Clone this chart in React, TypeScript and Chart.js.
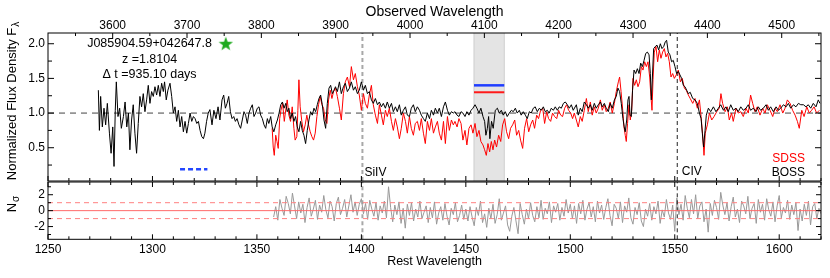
import React, { useEffect, useRef } from "react";
import { Chart, registerables } from "chart.js";
Chart.register(...registerables);

const FONT = "'Liberation Sans', Helvetica, Arial, sans-serif";

// ---- axis ranges ----
const REDSHIFT = 1.8104;
const REST_MIN = 1250;
const REST_MAX = 1620;
const FLUX_MIN = 0.02;
const FLUX_MAX = 2.155;
const NSIG_MIN = -3.6;
const NSIG_MAX = 3.6;

// ---- tick labels ----
const restTickLabels = [1250, 1300, 1350, 1400, 1450, 1500, 1550, 1600];
const obsTickLabels = [3600, 3700, 3800, 3900, 4000, 4100, 4200, 4300, 4400, 4500];
const fluxTickLabels = [0.5, 1.0, 1.5, 2.0];
const nsigTickLabels = [-2, 0, 2];

// ---- annotations ----
const objectName = "J085904.59+042647.8";
const redshiftText = "z =1.8104";
const deltaTText = "\u0394 t =935.10 days";
const textCenterWave = 1298.6;
const textLevels = [2.0, 1.765, 1.555];
const bandRange = [1453.9, 1468.4];
const bandBossLevel = 1.4;
const bandSdssLevel = 1.3;
const dashedBlueRange = [1313.2, 1326.3];
const dashedBlueLevel = 0.19;
const starPosition = [1335.1, 2.0];
const siivWave = 1400.5;
const civWave = 1551.2;

// ---- BOSS spectrum [rest wavelength, normalized flux] ----
const bossSpectrum: [number, number][] = [
  [1274.1,1.33],[1274.6,0.75],[1275.2,1.24],[1276.0,0.80],[1276.8,1.07],[1277.6,0.83],[1278.4,1.14],[1279.4,0.71],
  [1280.2,0.42],[1281.0,0.80],[1281.6,0.23],[1282.2,1.04],[1282.7,1.45],[1283.5,0.95],[1284.3,1.07],[1285.1,0.78],
  [1286.1,0.95],[1286.9,1.16],[1287.7,0.80],[1288.5,1.00],[1289.2,0.47],[1290.0,0.90],[1290.8,1.12],[1291.6,0.71],
  [1292.4,0.42],[1293.2,0.85],[1294.0,1.24],[1294.8,1.09],[1295.6,1.28],[1296.4,1.02],[1297.2,1.19],[1298.0,1.40],
  [1298.8,1.14],[1299.6,1.31],[1300.4,1.24],[1301.2,1.38],[1302.0,1.26],[1302.8,1.40],[1303.6,1.24],[1304.4,1.43],
  [1305.2,1.31],[1305.8,1.45],[1306.6,1.19],[1307.4,1.33],[1308.4,1.43],[1309.2,1.24],[1310.0,1.00],[1310.8,1.09],
  [1311.6,0.88],[1312.4,1.04],[1313.2,0.80],[1314.0,0.95],[1314.8,0.73],[1315.6,0.88],[1316.4,0.71],[1317.2,0.85],
  [1318.0,1.00],[1318.8,0.88],[1319.6,0.95],[1320.4,0.92],[1321.2,0.85],[1322.0,0.88],[1322.8,0.75],[1323.6,0.66],
  [1324.4,0.63],[1325.1,0.71],[1325.9,0.88],[1326.7,1.00],[1327.5,1.05],[1328.5,0.83],[1329.4,1.04],[1330.4,0.92],
  [1331.4,1.09],[1332.3,0.90],[1333.3,1.19],[1334.1,1.26],[1334.9,1.07],[1335.7,1.14],[1336.5,1.24],[1337.3,1.02],
  [1338.1,0.92],[1338.9,0.95],[1339.7,0.88],[1340.5,0.92],[1341.4,0.83],[1342.2,0.78],[1343.0,0.90],[1343.8,1.02],
  [1344.6,0.97],[1345.4,0.85],[1346.2,1.00],[1347.0,1.07],[1347.8,1.12],[1348.6,0.95],[1349.4,1.00],[1350.2,1.07],
  [1351.0,1.09],[1351.8,0.97],[1352.6,0.92],[1353.4,0.83],[1354.2,0.78],[1355.0,0.92],[1355.7,0.85],[1356.6,0.95],
  [1357.3,0.80],[1358.1,0.73],[1359.0,0.83],[1359.8,0.90],[1360.6,1.00],[1361.4,1.12],[1362.2,1.16],[1363.0,1.07],
  [1363.8,1.14],[1364.5,1.02],[1365.3,1.07],[1366.1,0.92],[1366.9,1.00],[1367.7,0.88],[1368.5,0.95],[1369.3,0.80],
  [1370.1,0.73],[1370.9,0.88],[1371.7,0.75],[1372.5,0.68],[1373.3,0.56],[1374.1,0.75],[1374.9,0.90],[1375.7,1.02],
  [1376.5,0.97],[1377.3,1.07],[1378.1,1.02],[1378.9,1.12],[1379.7,1.21],[1380.5,1.26],[1381.3,1.12],[1382.1,0.90],
  [1382.9,0.78],[1383.7,1.14],[1384.5,1.36],[1385.3,1.40],[1386.1,1.28],[1386.9,1.33],[1387.6,1.38],[1388.5,1.31],
  [1389.5,1.45],[1390.4,1.28],[1391.4,1.38],[1392.3,1.43],[1393.3,1.31],[1394.3,1.36],[1395.2,1.45],[1396.2,1.33],
  [1397.1,1.38],[1398.1,1.28],[1399.0,1.33],[1400.0,1.45],[1401.0,1.33],[1401.9,1.40],[1402.9,1.28],[1403.8,1.31],
  [1404.8,1.19],[1405.7,1.14],[1406.7,1.21],[1407.7,1.12],[1408.6,1.16],[1409.6,1.09],[1410.5,1.14],[1411.5,1.07],
  [1412.4,1.16],[1413.4,1.07],[1414.4,1.14],[1415.3,1.02],[1416.3,1.09],[1417.2,1.02],[1418.2,1.12],[1419.1,0.97],
  [1420.1,1.04],[1421.1,1.09],[1422.0,0.97],[1423.0,0.95],[1423.9,1.07],[1424.9,1.12],[1425.8,1.02],[1426.8,1.09],
  [1427.8,1.04],[1428.7,0.97],[1429.7,0.92],[1430.6,0.88],[1431.6,1.00],[1432.6,0.92],[1433.5,1.04],[1434.5,0.97],
  [1435.4,1.07],[1436.4,1.00],[1437.3,1.07],[1438.3,0.95],[1439.3,1.09],[1440.2,1.16],[1441.2,1.04],[1442.1,0.97],
  [1443.1,1.02],[1444.0,1.00],[1444.8,1.02],[1445.8,0.97],[1446.7,0.95],[1447.7,1.02],[1448.6,1.00],[1449.6,0.95],
  [1450.5,1.02],[1451.5,0.97],[1452.5,1.04],[1453.4,1.07],[1454.4,1.12],[1455.3,1.07],[1456.3,1.00],[1457.2,1.07],
  [1458.2,0.95],[1459.0,0.88],[1459.6,0.68],[1460.3,0.78],[1460.9,0.95],[1461.5,0.63],[1462.3,0.88],[1463.1,0.78],
  [1464.1,1.04],[1465.1,1.07],[1466.0,1.00],[1467.0,1.04],[1467.9,0.97],[1468.9,1.02],[1469.8,0.95],[1470.8,1.00],
  [1471.8,1.04],[1472.7,1.02],[1473.7,1.07],[1474.6,1.00],[1475.6,1.04],[1476.5,0.97],[1477.5,1.02],[1478.5,0.97],
  [1479.4,0.92],[1480.4,1.02],[1481.3,1.00],[1482.3,1.07],[1483.2,1.09],[1484.2,1.02],[1485.2,1.07],[1486.1,1.04],
  [1487.1,1.09],[1488.0,1.02],[1489.0,1.04],[1489.9,1.00],[1490.9,1.07],[1491.9,1.04],[1492.8,1.09],[1493.8,1.04],
  [1494.7,1.09],[1495.7,1.07],[1496.7,1.14],[1497.6,1.16],[1498.6,1.12],[1499.5,1.07],[1500.5,1.12],[1501.4,1.04],
  [1502.9,1.12],[1503.8,0.97],[1504.8,1.07],[1505.7,1.02],[1506.7,1.16],[1507.7,1.12],[1508.6,1.07],[1509.6,1.12],
  [1510.5,1.04],[1511.5,1.14],[1512.4,1.07],[1513.4,1.12],[1514.4,1.16],[1515.3,1.09],[1516.3,1.14],[1517.2,1.07],
  [1518.2,1.02],[1519.1,1.14],[1520.1,1.07],[1521.1,1.19],[1522.0,1.24],[1522.8,1.36],[1523.6,1.31],[1524.4,1.14],
  [1525.2,0.92],[1525.8,0.80],[1526.3,0.73],[1527.0,0.90],[1527.6,1.19],[1528.1,1.24],[1528.6,0.97],[1529.2,0.95],
  [1529.8,1.33],[1530.5,1.62],[1531.3,1.57],[1532.1,1.64],[1532.9,1.57],[1533.7,1.72],[1534.5,1.67],[1535.3,1.76],
  [1536.1,1.86],[1536.9,1.88],[1537.7,1.84],[1538.3,1.57],[1538.8,1.19],[1539.3,1.52],[1539.9,1.93],[1540.7,1.96],
  [1541.5,1.98],[1542.3,1.91],[1543.1,2.00],[1543.9,1.93],[1544.7,1.96],[1545.5,2.03],[1546.1,2.05],[1546.9,1.88],
  [1547.7,1.84],[1548.5,1.74],[1549.3,1.76],[1550.1,1.67],[1550.9,1.57],[1551.7,1.60],[1552.5,1.55],[1553.3,1.50],
  [1554.1,1.40],[1554.9,1.38],[1555.7,1.33],[1556.5,1.28],[1557.4,1.30],[1558.6,1.21],[1559.7,1.19],[1560.8,1.14],
  [1561.8,1.00],[1562.6,0.92],[1563.2,0.71],[1563.8,0.51],[1564.5,0.75],[1565.1,0.97],[1566.1,1.07],[1567.2,1.02],
  [1568.5,1.09],[1569.7,1.02],[1570.9,1.07],[1572.0,1.12],[1573.3,1.04],[1574.5,1.09],[1575.6,1.02],[1576.8,1.12],
  [1578.0,1.04],[1579.3,1.07],[1580.4,1.02],[1581.6,1.09],[1582.8,1.04],[1584.1,1.07],[1585.2,1.12],[1586.3,1.04],
  [1587.6,1.07],[1588.9,1.02],[1590.0,1.09],[1591.1,1.04],[1592.4,1.07],[1593.7,1.12],[1594.8,1.04],[1595.9,1.09],
  [1597.2,1.02],[1598.5,1.09],[1599.6,1.04],[1600.7,1.07],[1602.0,1.12],[1603.3,1.09],[1604.4,1.14],[1605.5,1.07],
  [1606.8,1.12],[1608.0,1.09],[1609.2,1.14],[1610.3,1.12],[1611.6,1.12],[1612.8,1.09],[1613.9,1.12],[1615.1,1.07],
  [1616.3,1.14],[1617.6,1.09],[1618.7,1.19],[1619.5,1.14],
];

// ---- SDSS spectrum [rest wavelength, normalized flux] ----
const sdssSpectrum: [number, number][] = [
  [1357.3,0.78],[1357.8,0.51],[1358.3,0.39],[1359.0,0.68],[1359.6,0.59],[1360.2,0.49],[1360.9,0.92],[1361.5,1.04],
  [1362.3,1.14],[1363.1,0.88],[1363.9,1.07],[1364.5,1.19],[1365.3,0.97],[1366.1,0.88],[1366.9,1.09],[1367.7,0.78],
  [1368.3,0.61],[1369.1,0.66],[1369.6,1.04],[1370.1,1.48],[1370.7,1.09],[1371.5,0.88],[1372.3,0.73],[1373.1,0.83],
  [1373.9,0.97],[1374.7,0.83],[1375.5,0.73],[1376.3,0.66],[1377.1,0.61],[1377.9,0.71],[1378.7,0.95],[1379.5,1.12],
  [1380.3,1.24],[1381.1,1.12],[1381.9,1.07],[1382.7,0.90],[1383.5,0.85],[1384.3,1.19],[1385.1,1.33],[1385.9,1.21],
  [1386.7,1.31],[1387.6,1.36],[1388.5,1.24],[1389.5,1.07],[1390.4,0.90],[1391.4,1.28],[1392.3,1.45],[1393.3,1.52],
  [1394.3,1.38],[1395.2,1.67],[1396.2,1.48],[1397.1,1.57],[1398.1,1.38],[1399.0,1.26],[1400.0,1.04],[1401.0,1.28],
  [1401.9,1.14],[1402.9,1.07],[1403.8,1.26],[1404.8,1.40],[1405.7,1.12],[1406.7,0.97],[1407.7,0.85],[1408.6,1.12],
  [1409.6,0.97],[1410.5,0.83],[1411.5,1.04],[1412.4,0.95],[1413.4,1.07],[1414.4,0.88],[1415.3,0.75],[1416.3,0.92],
  [1417.2,0.80],[1418.2,0.63],[1419.1,0.78],[1420.1,1.00],[1421.1,0.88],[1422.0,0.71],[1423.0,0.95],[1423.9,0.78],
  [1424.9,0.68],[1425.8,0.85],[1426.8,0.88],[1427.8,0.75],[1428.7,0.92],[1429.7,0.71],[1430.6,0.56],[1431.6,0.88],
  [1432.6,0.75],[1433.5,0.92],[1434.5,0.71],[1435.4,0.80],[1436.4,0.88],[1437.3,0.71],[1438.3,0.61],[1439.3,0.88],
  [1440.2,0.56],[1441.2,0.95],[1442.1,0.75],[1443.1,0.90],[1444.0,0.83],[1444.8,0.88],[1445.8,0.80],[1446.7,0.92],
  [1447.7,0.85],[1448.6,0.61],[1449.6,0.75],[1450.5,0.54],[1451.5,0.78],[1452.5,0.83],[1453.4,0.71],[1454.4,0.85],
  [1455.3,0.66],[1456.3,0.75],[1457.2,0.59],[1458.2,0.54],[1459.0,0.47],[1459.8,0.39],[1460.6,0.56],[1461.4,0.44],
  [1462.2,0.59],[1463.0,0.47],[1463.8,0.61],[1464.7,0.51],[1465.7,0.68],[1466.7,0.59],[1467.6,0.83],[1468.6,0.92],
  [1469.5,0.73],[1470.5,0.63],[1471.4,0.78],[1472.4,0.83],[1473.4,0.90],[1474.3,0.68],[1475.3,0.75],[1476.2,0.61],
  [1477.2,0.49],[1478.1,0.78],[1479.1,0.92],[1480.1,0.73],[1481.0,0.83],[1482.0,0.90],[1482.9,0.78],[1483.9,0.97],
  [1484.8,0.92],[1485.8,1.04],[1486.8,1.07],[1487.7,0.85],[1488.7,1.02],[1489.6,0.92],[1490.6,0.88],[1491.5,1.00],
  [1492.5,0.95],[1493.5,0.92],[1494.4,1.04],[1495.4,0.97],[1496.3,0.95],[1497.3,1.07],[1498.2,1.12],[1499.2,1.04],
  [1500.2,1.00],[1501.1,0.92],[1501.9,1.00],[1502.9,0.90],[1503.8,0.80],[1504.8,0.95],[1505.7,0.88],[1506.7,1.04],
  [1507.7,1.21],[1508.6,1.02],[1509.6,1.16],[1510.5,0.97],[1511.5,1.09],[1512.4,1.00],[1513.4,1.07],[1514.4,1.19],
  [1515.3,1.04],[1516.3,1.12],[1517.2,1.02],[1518.2,1.07],[1519.1,1.16],[1520.1,1.00],[1521.1,1.14],[1522.0,1.31],
  [1523.0,1.45],[1523.6,1.52],[1524.3,1.31],[1525.1,1.04],[1525.7,0.80],[1526.3,0.68],[1526.8,0.59],[1527.4,0.85],
  [1528.1,1.12],[1528.7,0.90],[1529.4,1.04],[1530.0,1.50],[1530.8,1.40],[1531.6,1.48],[1532.4,1.38],[1533.2,1.45],
  [1534.0,1.67],[1534.8,1.62],[1535.6,1.74],[1536.4,1.67],[1537.2,1.74],[1538.0,1.52],[1538.6,1.24],[1539.1,1.04],
  [1539.6,1.48],[1540.2,1.88],[1541.0,1.96],[1541.8,1.74],[1542.6,1.91],[1543.4,1.79],[1544.2,1.88],[1545.0,1.93],
  [1545.8,1.81],[1546.6,1.86],[1547.4,1.74],[1548.2,1.52],[1549.0,1.57],[1549.8,1.50],[1550.7,1.55],[1551.7,1.62],
  [1552.7,1.45],[1553.6,1.50],[1554.6,1.36],[1555.5,1.33],[1556.5,1.26],[1557.4,1.21],[1558.6,1.14],[1559.7,1.21],
  [1560.8,1.07],[1561.8,1.19],[1562.6,0.95],[1563.4,0.66],[1564.0,0.39],[1564.6,0.71],[1565.6,0.83],[1566.6,1.00],
  [1567.7,0.90],[1568.8,0.95],[1570.1,1.02],[1571.3,1.07],[1572.1,1.28],[1572.9,1.14],[1574.1,1.02],[1575.2,1.09],
  [1576.1,0.90],[1577.2,1.00],[1578.0,0.88],[1579.3,1.07],[1580.4,1.00],[1581.6,1.02],[1582.8,0.95],[1584.1,1.07],
  [1585.2,1.00],[1586.3,1.26],[1587.3,1.14],[1588.4,1.02],[1589.5,1.09],[1590.8,0.97],[1592.1,1.07],[1593.2,1.00],
  [1594.3,1.12],[1595.6,1.04],[1596.9,0.95],[1598.0,1.07],[1599.1,1.02],[1600.4,1.12],[1601.7,1.00],[1602.8,1.07],
  [1603.9,1.19],[1605.2,1.14],[1606.4,1.04],[1607.6,0.97],[1608.7,0.88],[1609.6,0.78],[1610.8,1.04],[1611.9,0.95],
  [1613.2,1.09],[1614.4,1.00],[1615.5,1.04],[1616.7,1.09],[1617.9,1.00],[1619.2,1.04],
];

// ---- residual N_sigma, one value per Angstrom starting at residualStart ----
const residualStart = 1358;
const residualNsig = [
  -0.8,0.5,-1.2,1.4,0.3,-0.6,1.8,0.9,-0.4,2.2, 0.6,-1.0,1.1,-0.3,0.8,-1.5,0.4,1.6,-0.7,0.2,
  1.3,-1.1,0.7,-0.2,1.9,0.1,-0.9,1.2,0.5,-1.3, 0.9,1.7,-0.5,0.3,1.4,-0.8,0.6,2.0,-0.2,1.1,
  -0.6,0.8,1.5,
  -0.4,0.9,-1.1,1.3,0.2,-0.7,1.0,-1.2,0.6,-0.3, 1.2,-0.9,3.0,0.4,-1.4,0.7,-0.5,1.1,-1.6,0.3,
  -2.2,0.8,-0.6,1.0,-1.3,0.2,-0.8,1.2,-1.0,-0.2, 0.6,-1.5,0.4,-0.9,1.1,-1.7,-0.3,0.5,-1.2,0.9,
  -0.7,-1.8,0.3,-0.5,1.0,-1.4,-0.6,0.7,-1.1,0.2,
  -1.3,0.5,-0.8,-1.9,0.4,-0.6,1.2,-1.5,-0.4,-2.1, 0.3,-1.0,0.8,-1.6,-0.5,1.5,-1.2,-0.3,0.6,-1.8,
  -2.6,-0.7,0.4,-1.3,-2.9,0.9,-0.5,-1.7,0.2,-1.0, 1.0,-0.6,-1.4,0.5,-0.9,1.3,-1.1,0.3,-0.4,1.1,
  -1.5,0.6,-0.2,0.9,-1.2,0.4,-0.7,1.4,-0.3,0.8,
  -1.0,0.6,-1.6,0.9,-0.4,1.3,-1.2,0.2,1.0,-0.8, 0.5,-1.4,1.2,-0.3,0.7,-1.1,0.4,1.5,-0.6,-1.9,
  0.8,0.3,-1.0,1.1,-1.5,0.6,-0.2,1.6,-0.9,-1.7, 0.4,-0.5,1.0,-1.3,-2.0,0.2,-0.7,0.9,-1.2,0.5,
  -0.4,1.2,-1.6,0.1,-0.8,1.4,-0.3,-1.1,0.7,-2.6,
  1.6,-0.5,0.8,-1.2,1.9,0.3,-0.9,1.4,-0.4,2.0, -1.0,0.6,1.1,-1.4,0.2,-2.7,0.9,-0.6,1.3,0.4,
  -1.1,2.3,0.7,-0.5,1.0,-1.3,0.5,1.7,-0.8,0.2, -1.5,1.2,0.6,-0.4,1.8,-1.0,0.3,0.9,-1.6,1.4,
  -0.2,0.8,-1.2,1.5,0.1,-0.7,1.1,-1.4,0.6,1.9, -0.9,0.4,-0.3,1.3,-1.1,0.7,-0.5,1.0,-2.5,0.2,
  -1.3,0.8,-0.6,1.2,-1.8,0.5,0.9,-1.0,0.3,-0.4,
];

// ---------------------------------------------------------------
const pts = (arr: [number, number][]) => arr.map(([x, y]) => ({ x, y }));
const hline = (x0: number, x1: number, y: number) => [{ x: x0, y }, { x: x1, y }];
const vline = (x: number, y0: number, y1: number) => [{ x, y: y0 }, { x, y: y1 }];

function seg(ctx: CanvasRenderingContext2D, x1: number, y1: number, x2: number, y2: number) {
  ctx.beginPath();
  ctx.moveTo(x1, y1);
  ctx.lineTo(x2, y2);
  ctx.stroke();
}

function restTicks(ctx: CanvasRenderingContext2D, sx: any, edgeY: number, dir: number) {
  for (let i = Math.ceil(REST_MIN / 10); i * 10 <= REST_MAX; i++) {
    const v = i * 10;
    const px = sx.getPixelForValue(v);
    const len = v % 50 === 0 ? 5 : 3;
    seg(ctx, px, edgeY, px, edgeY + dir * len);
  }
}

function makeStar(): HTMLCanvasElement {
  const c = document.createElement("canvas");
  c.width = 16;
  c.height = 16;
  const g = c.getContext("2d")!;
  g.fillStyle = "#1faa1f";
  g.beginPath();
  const R = 7.5, r = 3.1;
  for (let k = 0; k < 10; k++) {
    const ang = -Math.PI / 2 + (k * Math.PI) / 5;
    const rad = k % 2 === 0 ? R : r;
    const px = 8 + rad * Math.cos(ang);
    const py = 8.5 + rad * Math.sin(ang);
    if (k === 0) g.moveTo(px, py);
    else g.lineTo(px, py);
  }
  g.closePath();
  g.fill();
  return c;
}

function drawRotatedTitle(ctx: CanvasRenderingContext2D, cx: number, cy: number, main: string, sub: string) {
  ctx.save();
  ctx.translate(cx, cy);
  ctx.rotate(-Math.PI / 2);
  ctx.fillStyle = "#000";
  ctx.textBaseline = "middle";
  ctx.textAlign = "left";
  ctx.font = `13px ${FONT}`;
  const w1 = ctx.measureText(main).width;
  ctx.font = `10px ${FONT}`;
  const w2 = ctx.measureText(sub).width;
  const start = -(w1 + w2 + 1) / 2;
  ctx.font = `13px ${FONT}`;
  ctx.fillText(main, start, 0);
  ctx.font = `10px ${FONT}`;
  ctx.fillText(sub, start + w1 + 1, 4);
  ctx.restore();
}

const topDeco = {
  id: "topDeco",
  afterDatasetsDraw(chart: any) {
    const { ctx, chartArea: a, scales } = chart;
    const sx = scales.x, sx2 = scales.x2, sy = scales.y;
    ctx.save();
    ctx.strokeStyle = "#000";
    ctx.lineWidth = 1;
    ctx.setLineDash([]);
    ctx.strokeRect(a.left, a.top, a.right - a.left, a.bottom - a.top);
    restTicks(ctx, sx, a.bottom, -1);
    for (let i = Math.ceil(sx2.min / 50); i * 50 <= sx2.max; i++) {
      const v = i * 50;
      const px = sx2.getPixelForValue(v);
      seg(ctx, px, a.top, px, a.top + (v % 100 === 0 ? 5 : 3));
    }
    for (let i = 1; i * 0.25 <= FLUX_MAX; i++) {
      const v = i * 0.25;
      const py = sy.getPixelForValue(v);
      const len = i % 2 === 0 ? 6 : 4;
      seg(ctx, a.left, py, a.left + len, py);
      seg(ctx, a.right, py, a.right - len, py);
    }
    // texts
    ctx.fillStyle = "#000";
    ctx.textAlign = "center";
    ctx.textBaseline = "middle";
    ctx.font = `12.5px ${FONT}`;
    const tx = sx.getPixelForValue(textCenterWave);
    ctx.fillText(objectName, tx, sy.getPixelForValue(textLevels[0]));
    ctx.fillText(redshiftText, tx, sy.getPixelForValue(textLevels[1]));
    ctx.fillText(deltaTText, tx, sy.getPixelForValue(textLevels[2]));
    ctx.font = `14px ${FONT}`;
    ctx.fillText("Observed Wavelength", (a.left + a.right) / 2, 12.5);
    ctx.font = `12px ${FONT}`;
    ctx.textAlign = "left";
    ctx.fillText("SiIV", sx.getPixelForValue(siivWave) + 2, a.bottom - 8.5);
    ctx.fillText("CIV", sx.getPixelForValue(civWave) + 4.5, a.bottom - 9);
    ctx.textAlign = "right";
    ctx.fillStyle = "#ff0000";
    ctx.fillText("SDSS", a.right - 16, a.bottom - 22);
    ctx.fillStyle = "#000";
    ctx.fillText("BOSS", a.right - 16, a.bottom - 8.7);
    ctx.restore();
    drawRotatedTitle(ctx, 12.5, 101, "Normalized Flux Density F", "\u03bb");
  },
};

const bottomDeco = {
  id: "bottomDeco",
  afterDatasetsDraw(chart: any) {
    const { ctx, chartArea: a, scales } = chart;
    const sx = scales.x, sy = scales.y;
    ctx.save();
    ctx.strokeStyle = "#000";
    ctx.lineWidth = 1;
    ctx.setLineDash([]);
    ctx.strokeRect(a.left, a.top, a.right - a.left, a.bottom - a.top);
    restTicks(ctx, sx, a.top, 1);
    restTicks(ctx, sx, a.bottom, -1);
    for (let v = -3; v <= 3; v++) {
      const py = sy.getPixelForValue(v);
      const len = v % 2 === 0 ? 5 : 3;
      seg(ctx, a.left, py, a.left + len, py);
      seg(ctx, a.right, py, a.right - len, py);
    }
    ctx.fillStyle = "#000";
    ctx.textAlign = "center";
    ctx.textBaseline = "middle";
    ctx.font = `12.5px ${FONT}`;
    ctx.fillText("Rest Wavelength", (a.left + a.right) / 2, 81.7);
    ctx.restore();
    drawRotatedTitle(ctx, 12.5, 24, "N", "\u03c3");
  },
};

const tickFont = { family: FONT, size: 12 };
const noPad = (s: any) => {
  s.paddingTop = 0;
  s.paddingBottom = 0;
  s.paddingLeft = 0;
  s.paddingRight = 0;
};

export default function App() {
  const topRef = useRef<HTMLCanvasElement>(null);
  const botRef = useRef<HTMLCanvasElement>(null);

  useEffect(() => {
    document.body.style.margin = "0";
    const star = makeStar();
    const lineDs = (data: any[], color: string, width: number, dash: number[] = []) => ({
      data,
      borderColor: color,
      borderWidth: width,
      borderDash: dash,
      pointRadius: 0,
      pointHoverRadius: 0,
      tension: 0,
      fill: false,
    });

    const c1 = new Chart(topRef.current!, {
      type: "line",
      data: {
        datasets: [
          lineDs(pts(bossSpectrum), "#000000", 1),
          lineDs(pts(sdssSpectrum), "#ff0000", 1),
          lineDs(hline(bandRange[0], bandRange[1], bandBossLevel), "#1f3dff", 2.5),
          lineDs(hline(bandRange[0], bandRange[1], bandSdssLevel), "#ff1a1a", 2),
          lineDs(hline(dashedBlueRange[0], dashedBlueRange[1], dashedBlueLevel), "#2346ff", 2.5, [5, 3]),
          {
            data: [{ x: starPosition[0], y: starPosition[1] }],
            showLine: false,
            pointStyle: star as any,
            pointRadius: 8,
            borderWidth: 0,
          },
          lineDs(hline(REST_MIN, REST_MAX, 1.0), "#444444", 1, [6, 5]),
          lineDs(vline(siivWave, FLUX_MIN, FLUX_MAX), "#a8a8a8", 2, [4, 3]),
          lineDs(vline(civWave, FLUX_MIN, FLUX_MAX), "#222222", 1, [4, 3]),
          lineDs(vline(bandRange[0], FLUX_MIN, FLUX_MAX), "#cdcdcd", 1),
          lineDs(vline(bandRange[1], FLUX_MIN, FLUX_MAX), "#cdcdcd", 1),
          {
            data: hline(bandRange[0], bandRange[1], FLUX_MAX),
            borderWidth: 0,
            borderColor: "rgba(0,0,0,0)",
            backgroundColor: "#e4e4e4",
            pointRadius: 0,
            fill: "start",
          },
        ] as any,
      },
      options: {
        animation: false,
        responsive: false,
        maintainAspectRatio: false,
        devicePixelRatio: 1,
        events: [],
        layout: { autoPadding: false, padding: { left: 0, right: 9, top: 0, bottom: 1 } },
        plugins: { legend: { display: false }, tooltip: { enabled: false } },
        scales: {
          x: {
            type: "linear",
            min: REST_MIN,
            max: REST_MAX,
            display: false,
          },
          x2: {
            type: "linear",
            position: "top",
            min: REST_MIN * (1 + REDSHIFT),
            max: REST_MAX * (1 + REDSHIFT),
            grid: { display: false, drawTicks: false },
            border: { display: false },
            afterBuildTicks: (s: any) => {
              s.ticks = obsTickLabels.map((v) => ({ value: v }));
            },
            afterFit: (s: any) => {
              s.height = 33;
              noPad(s);
            },
            ticks: {
              autoSkip: false,
              maxRotation: 0,
              padding: 0,
              color: "#000",
              font: tickFont,
              callback: (v: any) => String(v),
            },
          },
          y: {
            type: "linear",
            min: FLUX_MIN,
            max: FLUX_MAX,
            grid: { display: false, drawTicks: false },
            border: { display: false },
            afterBuildTicks: (s: any) => {
              s.ticks = fluxTickLabels.map((v) => ({ value: v }));
            },
            afterFit: (s: any) => {
              s.width = 48;
              noPad(s);
            },
            ticks: {
              padding: 3,
              color: "#000",
              font: tickFont,
              callback: (v: any) => Number(v).toFixed(1),
            },
          },
        },
      } as any,
      plugins: [topDeco],
    });

    const c2 = new Chart(botRef.current!, {
      type: "line",
      data: {
        datasets: [
          lineDs(hline(REST_MIN, REST_MAX, 0), "#ff6a6a", 1),
          lineDs(hline(REST_MIN, REST_MAX, 1), "#ff8080", 1, [5, 4]),
          lineDs(hline(REST_MIN, REST_MAX, -1), "#ff8080", 1, [5, 4]),
          lineDs(vline(civWave, NSIG_MIN, NSIG_MAX), "#222222", 1, [4, 3]),
          lineDs(residualNsig.map((v, i) => ({ x: residualStart + i, y: v })), "#999999", 1),
          lineDs(vline(siivWave, NSIG_MIN, NSIG_MAX), "#a8a8a8", 2, [4, 3]),
        ] as any,
      },
      options: {
        animation: false,
        responsive: false,
        maintainAspectRatio: false,
        devicePixelRatio: 1,
        events: [],
        layout: { autoPadding: false, padding: { left: 0, right: 9, top: 2, bottom: 0 } },
        plugins: { legend: { display: false }, tooltip: { enabled: false } },
        scales: {
          x: {
            type: "linear",
            min: REST_MIN,
            max: REST_MAX,
            grid: { display: false, drawTicks: false },
            border: { display: false },
            afterBuildTicks: (s: any) => {
              s.ticks = restTickLabels.map((v) => ({ value: v }));
            },
            afterFit: (s: any) => {
              s.height = 38.7;
              noPad(s);
            },
            ticks: {
              autoSkip: false,
              maxRotation: 0,
              padding: 3.5,
              color: "#000",
              font: tickFont,
              callback: (v: any) => String(v),
            },
          },
          y: {
            type: "linear",
            min: NSIG_MIN,
            max: NSIG_MAX,
            grid: { display: false, drawTicks: false },
            border: { display: false },
            afterBuildTicks: (s: any) => {
              s.ticks = nsigTickLabels.map((v) => ({ value: v }));
            },
            afterFit: (s: any) => {
              s.width = 48;
              noPad(s);
            },
            ticks: {
              padding: 3,
              color: "#000",
              font: tickFont,
              callback: (v: any) => String(v),
            },
          },
        },
      } as any,
      plugins: [bottomDeco],
    });

    return () => {
      c1.destroy();
      c2.destroy();
    };
  }, []);

  return (
    <div style={{ position: "fixed", left: 0, top: 0, width: 830, height: 278, background: "#fff" }}>
      <canvas
        ref={topRef}
        width={830}
        height={182}
        style={{ position: "absolute", left: 0, top: 0, width: 830, height: 182 }}
      />
      <canvas
        ref={botRef}
        width={830}
        height={98}
        style={{ position: "absolute", left: 0, top: 180, width: 830, height: 98 }}
      />
    </div>
  );
}
